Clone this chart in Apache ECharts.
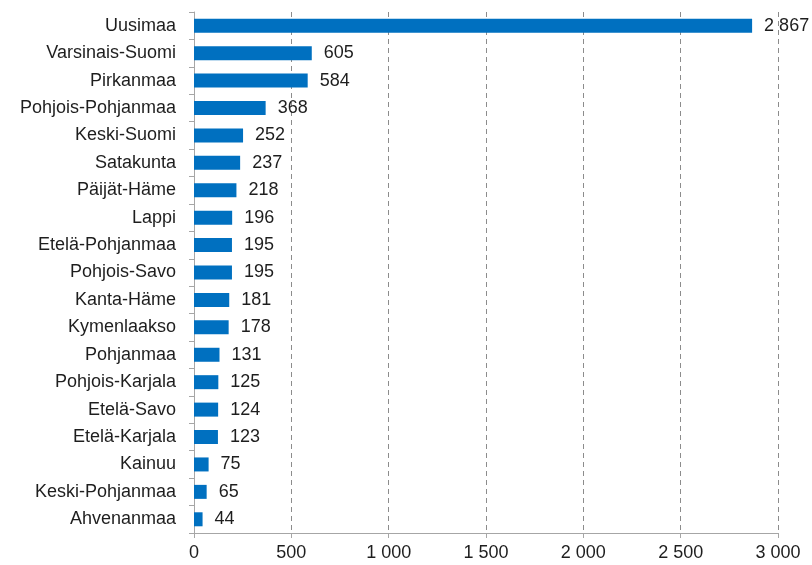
<!DOCTYPE html>
<html><head><meta charset="utf-8">
<script src="https://cdn.jsdelivr.net/npm/echarts@6/dist/echarts.min.js"></script>
<style>html,body{margin:0;padding:0;background:#fff}#c{width:812px;height:565px}</style>
</head><body><div id="c"></div>
<script>
const categories = ["Uusimaa","Varsinais-Suomi","Pirkanmaa","Pohjois-Pohjanmaa","Keski-Suomi","Satakunta","Päijät-Häme","Lappi","Etelä-Pohjanmaa","Pohjois-Savo","Kanta-Häme","Kymenlaakso","Pohjanmaa","Pohjois-Karjala","Etelä-Savo","Etelä-Karjala","Kainuu","Keski-Pohjanmaa","Ahvenanmaa"];
const values = [2867,605,584,368,252,237,218,196,195,195,181,178,131,125,124,123,75,65,44];
const xTicks = [0,500,1000,1500,2000,2500,3000];

function fmt(v){ return String(v).replace(/\B(?=(\d{3})+(?!\d))/g, ' '); }

const chart = echarts.init(document.getElementById('c'), null, {renderer:'canvas'});
chart.setOption({
  animation:false,
  textStyle:{fontFamily:'"Liberation Sans", Arial, sans-serif'},
  grid:{left:194,right:34,top:12,bottom:32,containLabel:false},
  xAxis:{
    type:'value', min:xTicks[0], max:xTicks[xTicks.length-1], interval:500,
    axisLine:{show:true,lineStyle:{color:'#a6a6a6',width:1}},
    axisTick:{show:true,length:5,lineStyle:{color:'#a6a6a6'}},
    axisLabel:{color:'#1e1e1e',fontSize:18,margin:11,formatter:fmt},
    splitLine:{show:true,lineStyle:{color:'#8c8c8c',type:[5,4],width:1}}
  },
  yAxis:{
    type:'category', data:categories, inverse:true,
    axisLine:{show:true,lineStyle:{color:'#a6a6a6',width:1}},
    axisTick:{show:true,length:5,lineStyle:{color:'#a6a6a6'}},
    axisLabel:{color:'#1e1e1e',fontSize:18,margin:18}
  },
  series:[{
    type:'bar', data:values, barWidth:14,
    itemStyle:{color:'#0070c0'},
    label:{show:true,position:'right',distance:12,color:'#1e1e1e',fontSize:18,formatter:p=>fmt(p.value)}
  }]
});
</script></body></html>
